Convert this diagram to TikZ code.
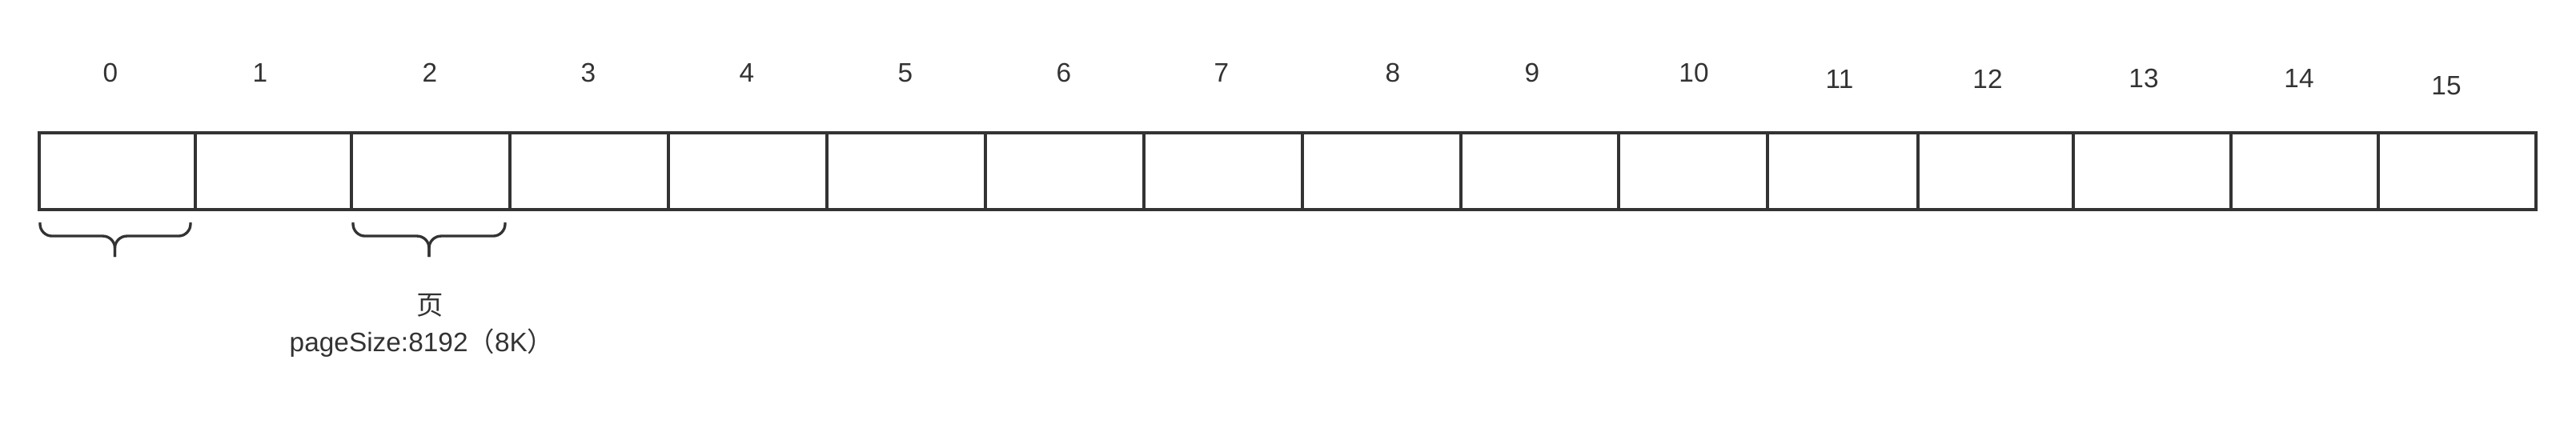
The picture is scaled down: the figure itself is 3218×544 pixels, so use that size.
\documentclass[tikz,border=0pt]{standalone}
\usepackage{fontspec}
\setmainfont{Liberation Sans}
\newfontfamily\cjk{Noto Sans CJK SC}
\definecolor{ink}{HTML}{333333}

\begin{document}
\begin{tikzpicture}[x=0.01cm, y=-0.01cm, font=\fontsize{9.5pt}{11pt}\selectfont, text=ink,
  cell/.style={draw=ink, line width=1.15pt, minimum height=0.96cm, inner sep=0pt, outer sep=0pt},
  pagebrace/.style={draw=ink, line width=0.95pt, rounded corners=0.15cm}]
  \useasboundingbox (0, 0) rectangle (3218, 544);
  \foreach \i/\l/\r in {0/49/244, 1/244/439, 2/439/637, 3/637/835, 4/835/1033, 5/1033/1231,
    6/1231/1429, 7/1429/1627, 8/1627/1825, 9/1825/2022, 10/2022/2208, 11/2208/2396,
    12/2396/2590, 13/2590/2787, 14/2787/2971, 15/2971/3168}
    \node[cell, minimum width={(\r-\l)*0.01cm}] (c\i) at ({(\l+\r)/2}, 214) {};
  \foreach \i/\x/\y in {0/138/91, 1/325/91, 2/537/91, 3/735/91, 4/933/91, 5/1131/91,
    6/1329/91, 7/1526/91, 8/1740/91, 9/1914/91, 10/2116/91, 11/2298/99,
    12/2483/99, 13/2678/98, 14/2872/98, 15/3056/107}
    \node (n\i) at (\x, \y) {\i};
  \node (page) at (537, 382) {\cjk 页};
  \node (size) at (527, 429) {pageSize:8192{\cjk（}8K{\cjk）}};
  \foreach \c/\dl/\dm/\dr in {c0/0.01/-0.03/-0.06, c2/0.02/-0.02/-0.06} {
    \draw[pagebrace] ([xshift=\dl cm, yshift=-0.16cm]\c.south west) |- ([xshift=\dm cm, yshift=-0.33cm]\c.south) -- ([xshift=\dm cm, yshift=-0.59cm]\c.south);
    \draw[pagebrace] ([xshift=\dr cm, yshift=-0.16cm]\c.south east) |- ([xshift=\dm cm, yshift=-0.33cm]\c.south) -- ([xshift=\dm cm, yshift=-0.59cm]\c.south);
  }
\end{tikzpicture}
\end{document}
